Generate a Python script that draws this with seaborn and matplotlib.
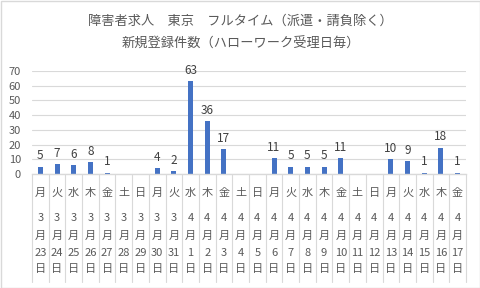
import matplotlib
matplotlib.use("Agg")
import matplotlib.pyplot as plt
import matplotlib.transforms as mtransforms
import seaborn as sns
import pandas as pd

sns.set_theme(style="white")
plt.rcParams['font.family'] = ['Noto Sans CJK JP', 'DejaVu Sans']

# ---- data ----
months = [3]*9 + [4]*17
days = [23, 24, 25, 26, 27, 28, 29, 30, 31] + list(range(1, 18))
weekdays = ["月", "火", "水", "木", "金", "土", "日",
            "月", "火", "水", "木", "金", "土", "日",
            "月", "火", "水", "木", "金", "土", "日",
            "月", "火", "水", "木", "金"]
counts = [5, 7, 6, 8, 1, 0, 0, 4, 2, 63, 36, 17, 0, 0,
          11, 5, 5, 5, 11, 0, 0, 10, 9, 1, 18, 1]
title_lines = ["障害者求人　東京　フルタイム（派遣・請負除く）",
               "新規登録件数（ハローワーク受理日毎）"]
yticks = [0, 10, 20, 30, 40, 50, 60, 70]

labels = [f"{m}/{d}" for m, d in zip(months, days)]
df = pd.DataFrame({"date": labels, "count": counts})

W, H = 481, 288
fig = plt.figure(figsize=(W/100, H/100), dpi=100)
fig.patch.set_facecolor("white")

# outer border
fig.add_artist(plt.Rectangle((0.5/W, 0.5/H), 1 - 1.5/W, 1 - 1.5/H,
                             transform=fig.transFigure, fill=False,
                             edgecolor="#D9D9D9", linewidth=1))

left, right = 32/W, 466/W
bottom, top = (H-174)/H, (H-71)/H
ax = fig.add_axes([left, bottom, right-left, top-bottom])

sns.barplot(data=df, x="date", y="count", ax=ax, color="#4472C4",
            width=0.3, saturation=1, linewidth=0)

ax.set_ylim(0, 70)
ax.set_xlim(-0.5, len(counts)-0.5)
ax.set_yticks(yticks)
ax.set_yticklabels([str(t) for t in yticks], fontsize=8, color="#595959")
ax.tick_params(axis="y", length=0, pad=8)
ax.set_xticks([])
ax.set_xlabel("")
ax.set_ylabel("")
for s in ["top", "right", "left"]:
    ax.spines[s].set_visible(False)
ax.spines["bottom"].set_color("#D9D9D9")
ax.spines["bottom"].set_linewidth(1)
ax.yaxis.grid(True, color="#D9D9D9", linewidth=0.8)
ax.set_axisbelow(True)

# data labels
for i, v in enumerate(counts):
    if v > 0:
        ax.annotate(str(v), (i, v), xytext=(0, 3), textcoords="offset points",
                    ha="center", va="bottom", fontsize=8.5, color="#404040")

# category axis (multi-level)
tr = mtransforms.blended_transform_factory(ax.transData, fig.transFigure)
y_top_line = 1 - 174/H
y_bot_line = 1 - 282/H
for k in range(len(counts)+1):
    ax.plot([k-0.5, k-0.5], [y_top_line, y_bot_line], transform=tr,
            color="#D9D9D9", linewidth=0.8, clip_on=False)

for i in range(len(counts)):
    ax.text(i, 1 - 193/H, weekdays[i], transform=tr, ha="center", va="center",
            fontsize=8, color="#595959")
    ax.text(i, 1 - 218/H, str(months[i]), transform=tr, ha="center", va="center",
            fontsize=8, color="#595959")
    ax.text(i, 1 - 236/H, "月", transform=tr, ha="center", va="center",
            fontsize=8, color="#595959")
    ax.text(i, 1 - 253/H, str(days[i]), transform=tr, ha="center", va="center",
            fontsize=8, color="#595959")
    ax.text(i, 1 - 269/H, "日", transform=tr, ha="center", va="center",
            fontsize=8, color="#595959")

# title
fig.text(0.5, 1 - 21/H, title_lines[0], ha="center", va="center",
         fontsize=9.5, color="#595959")
fig.text(0.5, 1 - 44/H, title_lines[1], ha="center", va="center",
         fontsize=9.5, color="#595959")

fig.savefig("out.png", dpi=100)
